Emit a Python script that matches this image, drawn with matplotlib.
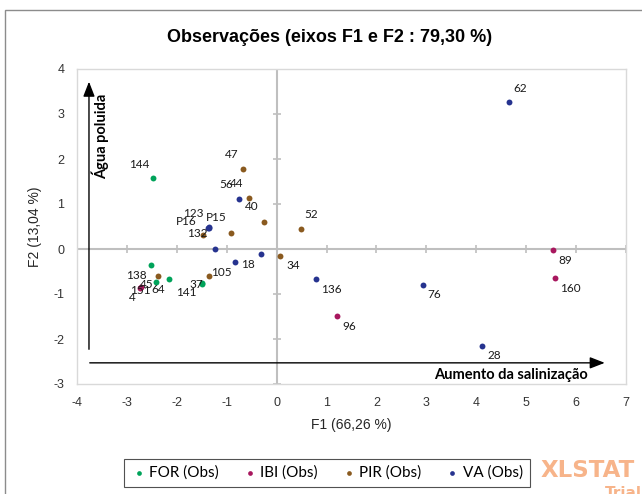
import matplotlib
matplotlib.use("Agg")
import matplotlib.pyplot as plt
from matplotlib.patches import Rectangle

plt.rcParams["axes.unicode_minus"] = False

# PCA scores (F1, F2), one set of arrays per group
for_f1 = [-2.48, -2.52, -2.42, -2.16, -1.49, -1.50]
for_f2 = [1.57, -0.36, -0.73, -0.67, -0.75, -0.77]
for_lab = ["144", "138", "45", "64", "37", "141"]

ibi_f1 = [-2.72, -2.73, 5.54, 5.57, 1.21]
ibi_f2 = [-0.85, -0.86, -0.03, -0.65, -1.49]
ibi_lab = ["151", "4", "89", "160", "96"]

pir_f1 = [-0.67, -0.55, -0.26, -0.91, -1.48, 0.48, 0.07, -1.35, -2.38]
pir_f2 = [1.78, 1.14, 0.61, 0.35, 0.31, 0.45, -0.16, -0.60, -0.61]
pir_lab = ["47", "44", "40", "", "132", "52", "34", "105", ""]

va_f1 = [4.65, -0.75, -1.35, -1.36, -1.37, -1.24, -0.83, -0.32, 0.79, 2.93, 4.12]
va_f2 = [3.26, 1.11, 0.47, 0.48, 0.46, 0.00, -0.30, -0.11, -0.67, -0.80, -2.15]
va_lab = ["62", "56", "P15", "123", "P16", "", "18", "", "136", "76", "28"]

groups = ["FOR (Obs)", "IBI (Obs)", "PIR (Obs)", "VA (Obs)"]
colors = ["#00a35a", "#a8175e", "#8a5a1f", "#26338f"]

# label placement (pixels from the point, y up)
lab_off = {
    "144": (-14, 14), "138": (-14, -10), "45": (-9, -3), "64": (-11, -10),
    "37": (-6, -2), "141": (-15, -9), "151": (-1, -3), "4": (-8, -10),
    "89": (12, -10), "160": (16, -10), "96": (12, -10),
    "47": (-11, 14), "44": (-13, 14), "40": (-12, 15), "132": (-5, 2),
    "52": (11, 14), "34": (13, -9), "105": (12, 3),
    "62": (11, 14), "56": (-13, 15), "P15": (7, 10), "123": (-15, 14),
    "P16": (-22, 7), "18": (13, -2), "136": (15, -10), "76": (11, -10),
    "28": (12, -10),
}

fig = plt.figure(figsize=(6.42, 4.94), dpi=100)
ax = fig.add_axes([77 / 642, 1 - 384 / 494, 549 / 642, 315 / 494])

ax.axhline(0, color="#bfbfbf", lw=1.5, zorder=1)
ax.axvline(0, color="#bfbfbf", lw=1.5, zorder=1)
# little tick marks on the zero lines
ax.plot([0] * 8, range(-3, 5), ls="none", marker="_", ms=6, mew=1.2, color="#bfbfbf", zorder=1)
ax.plot(range(-4, 8), [0] * 12, ls="none", marker="|", ms=6, mew=1.2, color="#bfbfbf", zorder=1)

data = [(for_f1, for_f2, for_lab), (ibi_f1, ibi_f2, ibi_lab),
        (pir_f1, pir_f2, pir_lab), (va_f1, va_f2, va_lab)]
for (xs, ys, labs), name, c in zip(data, groups, colors):
    ax.scatter(xs, ys, s=18, color=c, label=name, zorder=3, linewidths=0)
    for x, y, t in zip(xs, ys, labs):
        if t:
            ax.annotate(t, (x, y), xytext=lab_off[t], textcoords="offset pixels",
                        ha="center", va="center", fontsize=8.5, family="Lato",
                        color="#1a1a1a", zorder=4)

# the two interpretation arrows
ax.annotate("", xy=(-3.76, 3.78), xytext=(-3.76, -2.29),
            arrowprops=dict(arrowstyle="-|>,head_length=0.9,head_width=0.35", color="black", lw=1))
ax.annotate("", xy=(6.63, -2.53), xytext=(-3.80, -2.53),
            arrowprops=dict(arrowstyle="-|>,head_length=0.9,head_width=0.35", color="black", lw=1))
ax.text(-3.53, 2.5, "Água poluida", rotation=90, ha="center", va="center",
        fontsize=10.5, fontweight="bold", family="Lato")
ax.text(4.7, -2.79, "Aumento da salinização", ha="center", va="center",
        fontsize=10.5, fontweight="bold", family="Lato")

ax.set_xlim(-4, 7)
ax.set_ylim(-3, 4)
ax.set_xticks(range(-4, 8))
ax.set_yticks(range(-3, 5))
ax.tick_params(length=0, pad=9, labelsize=9, labelcolor="#333333")
for lbl in ax.get_xticklabels() + ax.get_yticklabels():
    lbl.set_family("Liberation Sans")
for s in ax.spines.values():
    s.set_color("#d9d9d9")
    s.set_linewidth(1)

ax.set_xlabel("F1 (66,26 %)", fontsize=10, family="Liberation Sans", color="#262626", va="center")
ax.xaxis.set_label_coords(0.5, -0.13)
ax.set_ylabel("F2 (13,04 %)", fontsize=10, family="Liberation Sans", color="#262626", va="center")
ax.yaxis.set_label_coords(-0.077, 0.5)

fig.text(330 / 642, 1 - 38 / 494, "Observações (eixos F1 e F2 : 79,30 %)", ha="center", va="center",
         fontsize=13, fontweight="bold", family="Liberation Sans")

leg = fig.legend(loc="center", bbox_to_anchor=(327 / 642, 1 - 473 / 494), ncol=4,
                 frameon=True, fancybox=False, edgecolor="#262626", markerscale=0.8,
                 handletextpad=0.2, columnspacing=1.5, handlelength=1.0,
                 prop={"family": "Lato", "size": 11}, borderpad=0.45)
leg.get_frame().set_linewidth(0.8)

# XLSTAT watermark (runs off the right edge like in the original)
fig.text(541 / 642, 1 - 470 / 494, "XLSTAT", ha="left", va="center", fontsize=16.5,
         fontweight="bold", family="DejaVu Sans", color="#f7b48a")
fig.text(605 / 642, 1 - 493 / 494, "Trial", ha="left", va="center", fontsize=11,
         fontweight="bold", family="DejaVu Sans", color="#f7b48a")

# outer frame of the chart sheet
fig.patches.append(Rectangle((5 / 642, -0.1), 1.2, 1.1 - 10 / 494,
                             transform=fig.transFigure, fill=False, edgecolor="#8c8c8c", lw=1))

fig.savefig("out.png", dpi=100)
